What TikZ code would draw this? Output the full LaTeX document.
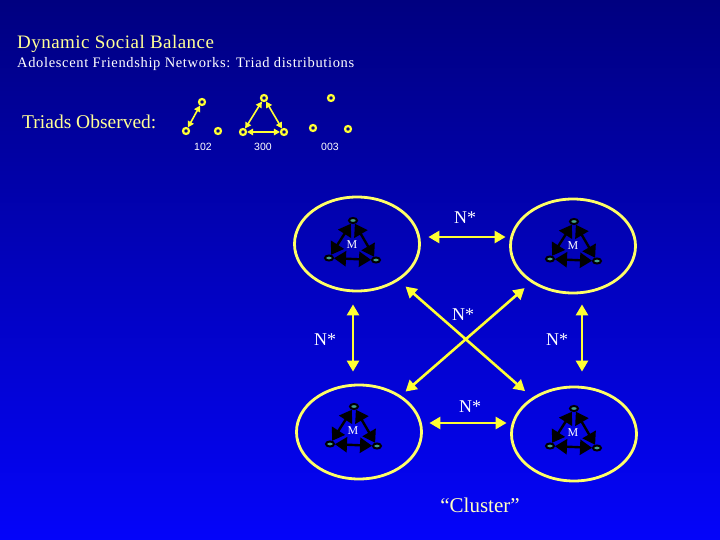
\documentclass[tikz,border=0pt]{standalone}
\usepackage{fontspec}
\setmainfont{Liberation Serif}
\newfontfamily\numfont{Liberation Sans}
\usetikzlibrary{arrows.meta, shapes.geometric, positioning}

\definecolor{navytop}{RGB}{0,0,128}
\definecolor{bluebottom}{RGB}{4,4,250}
\definecolor{paleyellow}{RGB}{255,255,150}
\definecolor{ringyellow}{RGB}{255,255,102}
\definecolor{lineyellow}{RGB}{255,255,51}
\definecolor{dotteal}{RGB}{70,160,140}

\tikzset{
  group/.style={ellipse, draw=ringyellow, line width=2.8pt, minimum width=125pt, minimum height=94pt, inner sep=0pt},
  tie/.style={{Triangle[length=11pt,width=12pt]}-{Triangle[length=11pt,width=12pt]}, draw=lineyellow, fill=lineyellow, line width=2.6pt},
  actor/.style={ellipse, draw=black, line width=2pt, fill=dotteal, minimum width=8pt, minimum height=5pt, inner sep=0pt},
  link/.style={{Triangle[length=12pt,width=15pt]}-{Triangle[length=12pt,width=15pt]}, draw=black, line width=2.4pt},
  obs/.style={circle, draw=lineyellow, line width=2.2pt, fill=navytop, minimum size=6pt, inner sep=0pt},
  obslink/.style={{Triangle[length=6pt,width=6.5pt]}-{Triangle[length=6pt,width=6.5pt]}, draw=lineyellow, fill=lineyellow, line width=1.6pt},
  ntext/.style={text=white, font=\fontsize{18}{18}\selectfont},
  heading/.style={anchor=base west, inner sep=0pt},
}

\begin{document}
\begin{tikzpicture}[x=1pt, y=-1pt]
		  % Background
		\useasboundingbox (0,0) rectangle (720,540);
		\shade[top color=navytop, bottom color=bluebottom] (0,0) rectangle (720,540);

		  % Headings
		\node[heading, text=paleyellow, font=\fontsize{19}{19}\selectfont\addfontfeature{LetterSpace=2.5}] (title) at (17,49) {Dynamic Social Balance};
		\node[heading, text=white, font=\fontsize{14.5}{15}\selectfont\addfontfeature{LetterSpace=4.5}] (subtitle) at (17,68) {Adolescent Friendship Networks: Triad distributions};
		\node[heading, text=paleyellow, font=\fontsize{19.5}{20}\selectfont] (observed) at (22,129) {Triads Observed:};

		  % Observed triads
		\node[obs] (o1a) at (202,102) {};
		\node[obs] (o1b) at (186,131) {};
		\node[obs] (o1c) at (218,131) {};
		\node[obs] (o2a) at (264,98) {};
		\node[obs] (o2b) at (243,132) {};
		\node[obs] (o2c) at (284,132) {};
		\node[obs] (o3a) at (331,98) {};
		\node[obs] (o3b) at (313,128) {};
		\node[obs] (o3c) at (348,129) {};
		\draw[obslink] (o1a) -- (o1b);
		\draw[obslink] (o2a) -- (o2b);
		\draw[obslink] (o2a) -- (o2c);
		\draw[obslink] (o2b) -- (o2c);
		\node[text=white, font=\numfont\fontsize{10.5}{10}\selectfont] (t102) at (203,147) {102};
		\node[text=white, font=\numfont\fontsize{10.5}{10}\selectfont] (t300) at (263,147) {300};
		\node[text=white, font=\numfont\fontsize{10.5}{10}\selectfont] (t003) at (330,147) {003};

		  % Groups with their triads
		\foreach \g/\gx/\gy/\mx/\my in {tl/357/244/352/245, tr/573/246/573/246, bl/359/432/353/431, br/574/434/573/433} {
		  \node[group] (\g) at (\gx,\gy) {};
		  \node[actor] (\g-a) at (\mx+1,\my-24.5) {};
		  \node[actor] (\g-b) at (\mx-23,\my+13) {};
		  \node[actor] (\g-c) at (\mx+24,\my+15) {};
		  \draw[link] (\g-a) -- (\g-b);
		  \draw[link] (\g-a) -- (\g-c);
		  \draw[link] (\g-b) -- (\g-c);
		  \node[text=white, font=\fontsize{12}{12}\selectfont] (\g-m) at (\mx,\my) {M};
		}

		  % Edges
		\draw[tie, shorten <=7.5pt, shorten >=3.5pt] ([yshift=7pt]tl.east) -- ([yshift=9pt]tr.west);
		\draw[tie, shorten <=6.5pt, shorten >=3.5pt] ([yshift=9pt]bl.east) -- ([yshift=11pt]br.west);
		\draw[tie, shorten <=12pt, shorten >=12pt] ([xshift=-4pt]tl.south) -- ([xshift=-6pt]bl.north);
		\draw[tie, shorten <=10pt, shorten >=14pt] ([xshift=9pt]tr.south) -- ([xshift=8pt]br.north);
		\draw[tie, shorten <=9pt, shorten >=9.5pt] (tl) -- (br);
		\draw[tie, shorten <=8.5pt, shorten >=6pt] (tr) -- (bl);

		  % Labels
		\node[ntext] (n1) at (465,218) {N*};
		\node[ntext] (n2) at (470,407) {N*};
		\node[ntext] (n3) at (325,340) {N*};
		\node[ntext] (n4) at (557,340) {N*};
		\node[ntext] (n5) at (463,315) {N*};
		\node[text=paleyellow!60!white, font=\fontsize{21}{21}\selectfont] (cluster) at (480,505) {“Cluster”};
\end{tikzpicture}
\end{document}
